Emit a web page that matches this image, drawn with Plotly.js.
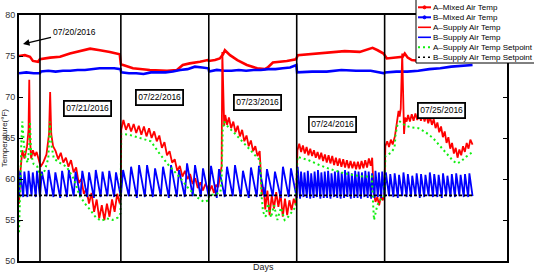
<!DOCTYPE html>
<html><head><meta charset="utf-8">
<script src="https://cdn.plot.ly/plotly-3.0.1.min.js"></script>
<style>html,body{margin:0;padding:0;background:#fff;}#chart{width:534px;height:272px;}</style>
</head><body><div id="chart"></div>
<script>
// ---- data (x = hours since start of record, y = °F) ----
const seriesNames = ["A\u2013Mixed Air Temp","B\u2013Mixed Air Temp","A\u2013Supply Air Temp","B\u2013Supply Air Temp","A\u2013Supply Air Temp Setpoint","B\u2013Supply Air Temp Setpoint"];
const dayLines = [5.73, 27.8, 51.8, 75.8, 99.8];
const dayLabels = ["07/20/2016","07/21/2016","07/22/2016","07/23/2016","07/24/2016","07/25/2016"];

const aMixed = [[0,75.0],[1.6,75.1],[3.0,74.9],[3.8,74.4],[5.2,74.3],[5.7,74.6],[8.5,74.8],[11.2,74.9],[13.9,75.3],[16.6,75.6],[19.4,75.9],[22.1,75.7],[24.8,75.5],[27.5,75.2],
 [27.8,74.0],[31.1,73.5],[35.7,73.3],[40.4,73.2],[43.1,73.3],[44.7,73.9],[46.6,74.1],[49.4,74.3],[51.5,74.5],
 [51.8,74.4],[53.5,74.5],[54.8,74.7],[55.7,75.2],[56.2,75.7],[57.6,75.1],[59.6,74.5],[62.2,73.9],[65.0,73.5],[67.1,73.4],[67.9,73.6],[69.3,74.2],[73.1,74.4],[75.6,74.6],
 [76.1,75.1],[80.7,75.3],[84.8,75.4],[88.9,75.6],[93.0,75.5],[95.2,75.8],[96.5,76.0],[97.9,75.7],[99.5,75.3],
 [100.4,74.7],[102.5,74.8],[104.7,74.9],[105.3,75.3],[106.1,74.8],[107.2,74.5],[109.4,74.4],[114.8,74.6],[123.8,74.6]];

const bMixed = [[0,72.9],[2,73.0],[4,72.9],[5.7,72.9],[6.0,73.1],[8,73.2],[10,73.1],[12,73.2],[14,73.2],[16,73.3],[18,73.3],[20,73.4],[22,73.5],[24,73.5],[26,73.5],[27.7,73.4],
 [27.9,73.0],[30,72.9],[32,72.9],[34,72.8],[36,73.0],[38,73.0],[40,73.0],[42,73.1],[44,73.3],[46,73.4],[48,73.7],[50,73.6],[51.7,73.5],
 [51.9,73.1],[54,73.3],[56,73.2],[58,73.2],[60,73.3],[62,73.2],[64,73.3],[66,73.3],[68,73.4],[70,73.4],[72,73.5],[74,73.6],[75.7,73.9],
 [75.9,73.0],[80,73.1],[84,73.1],[88,73.3],[92,73.2],[96,73.2],[99.7,72.9],
 [99.9,73.0],[103,73.1],[106,73.1],[109,73.2],[112,73.4],[115,73.5],[118,73.7],[121,73.8],[123.8,73.9]];

const aSupply = [[0,57.0],[0.4,61.0],[0.9,63.5],[1.5,62.5],[2.2,64.0],[2.6,66.0],[2.8,72.1],[3.0,65.0],[3.3,62.5],[3.8,63.5],[4.3,62.8],[4.8,63.3],[5.3,62.5],[5.7,62.0],
 [5.9,61.5],[6.6,62.0],[7.5,63.0],[8.2,65.5],[8.5,70.6],[8.8,65.5],[9.3,64.0],[10.0,63.4],[10.7,62.4],[11.4,63.2],[12.1,62.0],[12.8,62.6],[13.5,61.5],[14.2,62.3],[14.9,60.8],[15.6,61.4],[16.3,59.5],[17.0,60.0],[17.7,58.2],[18.4,58.8],[19.1,57.0],[19.8,58.3],[20.5,56.0],[21.2,57.5],[21.9,55.2],[22.6,56.8],[23.3,55.0],[24.0,57.0],[24.7,55.4],[25.4,57.5],[26.1,56.0],[26.8,58.2],[27.5,57.0],[27.8,58.0],
 [27.9,66.0],[28.5,67.2],[29.2,66.0],[29.9,66.8],[30.6,65.8],[31.3,66.7],[32.0,65.6],[32.7,66.5],[33.4,65.4],[34.1,66.4],[34.8,65.2],[35.5,66.2],[36.2,65.0],[36.9,65.8],[37.6,64.6],[38.3,65.3],[39.0,63.8],[39.7,64.5],[40.4,62.9],[41.1,63.4],[41.8,62.0],[42.5,62.4],[43.2,61.0],[43.9,61.6],[44.6,60.3],[45.3,61.0],[46.0,60.0],[46.7,60.6],[47.4,59.4],[48.1,60.1],[48.8,58.9],[49.5,59.6],[50.2,58.6],[50.9,59.4],[51.6,58.7],
 [52.0,58.5],[52.6,59.2],[53.2,58.3],[53.8,59.3],[54.4,59.0],[54.9,60.5],[55.3,61.5],[55.5,75.5],[55.8,68.0],[56.0,66.5],[56.3,67.8],[56.8,66.6],[57.3,67.5],[57.9,66.2],[58.5,67.0],[59.1,65.7],[59.7,66.5],[60.3,65.2],[60.9,66.0],[61.5,64.6],[62.1,65.3],[62.7,64.0],[63.3,64.7],[63.9,63.4],[64.5,64.0],[65.1,62.8],[65.7,63.4],[66.0,60.0],[66.3,58.0],[66.8,59.0],[67.2,56.3],[67.8,58.6],[68.4,55.6],[69.0,58.0],[69.6,56.4],[70.2,58.4],[70.8,56.6],[71.4,58.2],[72.0,55.4],[72.6,57.6],[73.2,55.6],[73.8,57.4],[74.4,56.2],[75.0,57.6],[75.6,56.8],
 [76.0,63.5],[76.5,64.3],[77.0,63.3],[77.5,64.1],[78.0,63.1],[78.5,63.9],[79.0,62.9],[79.5,63.7],[80.0,62.8],[80.5,63.5],[81.0,62.6],[81.5,63.3],[82.0,62.4],[82.5,63.2],[83.0,62.2],[83.5,63.0],[84.0,62.0],[84.5,62.9],[85.0,61.9],[85.5,62.8],[86.0,61.7],[86.5,62.6],[87.0,61.6],[87.5,62.5],[88.0,61.5],[88.5,62.4],[89.0,61.4],[89.5,62.3],[90.0,61.3],[90.5,62.2],[91.0,61.3],[91.5,62.1],[92.0,61.2],[92.5,62.1],[93.0,61.2],[93.5,62.2],[94.0,61.3],[94.5,62.3],[95.0,61.4],[95.5,62.5],[96.0,61.6],[96.4,62.6],[96.8,58.5],[97.3,57.2],[97.8,57.8],[98.3,56.8],[98.8,57.9],[99.3,57.4],[99.7,58.0],
 [100.0,64.0],[100.5,64.6],[101.0,63.9],[101.5,64.8],[102.0,64.2],[102.6,65.2],[103.0,66.5],[103.3,67.3],[103.6,68.3],[103.9,67.6],[104.2,68.6],[104.6,75.3],[104.8,70.0],[105.1,65.5],[105.4,67.5],[105.8,67.0],[106.2,67.8],[106.7,67.0],[107.2,67.9],[107.7,67.1],[108.2,68.0],[108.7,67.2],[109.2,68.0],[109.7,67.1],[110.2,67.9],[110.7,67.0],[111.2,67.8],[111.7,66.8],[112.2,67.6],[112.7,66.6],[113.2,67.3],[113.7,66.2],[114.2,66.9],[114.7,65.7],[115.2,66.4],[115.7,65.1],[116.2,65.8],[116.7,64.4],[117.2,65.1],[117.7,63.7],[118.2,64.4],[118.7,63.1],[119.2,63.8],[119.7,62.6],[120.2,63.6],[120.7,62.9],[121.2,64.0],[121.7,63.3],[122.2,64.4],[122.7,63.7],[123.2,64.8],[123.8,64.2]];

const aSetpoint = [[0,53.5],[0.2,56.0],[0.4,60.0],[0.6,64.0],[0.9,67.0],[1.3,64.5],[1.8,62.5],[2.4,62.0],[2.8,64.0],[3.0,67.0],[3.3,63.0],[4.0,61.8],[5.0,61.5],[5.7,60.5],
 [6.0,60.5],[7.0,61.0],[8.0,62.5],[8.4,67.0],[8.9,64.0],[9.5,62.5],[11,62.0],[13,61.5],[15,60.0],[16.5,58.0],[18,57.0],[19.5,56.2],[21,55.3],[22.5,54.9],[24,55.2],[25.5,55.0],[27,55.3],[27.7,55.8],
 [27.9,65.5],[30,65.4],[33,65.0],[36,64.6],[38.5,63.0],[41,61.6],[43.5,60.4],[46,59.0],[48.5,57.8],[50.5,57.2],[51.7,57.4],
 [51.9,58.0],[54,58.2],[55.0,58.4],[55.3,60.0],[55.6,66.0],[56.0,67.0],[57,66.4],[59,65.5],[61,64.6],[63,63.6],[65,62.6],[65.8,62.3],[66.2,58.0],[66.6,56.0],[67.3,55.4],[68,57.0],[68.8,55.3],[69.6,56.8],[70.5,55.0],[71.5,56.5],[72.5,55.0],[73.5,55.4],[74.5,56.0],[75.5,56.6],
 [76.0,62.7],[79,62.3],[82,61.7],[85,61.2],[88,60.8],[91,60.5],[94,60.3],[96.3,60.3],[96.6,57.4],[96.9,55.0],[97.3,55.8],[97.8,56.8],[98.5,57.4],[99.2,57.8],[99.7,58.0],
 [100.0,62.8],[101.5,63.2],[102.5,63.8],[102.8,65.5],[103.3,66.6],[104.0,67.0],[105.5,66.5],[107,66.3],[109,66.2],[111,65.7],[113,65.0],[115,64.0],[117,63.0],[118.5,62.2],[119.5,61.9],[120.5,62.1],[122,62.7],[123.8,63.3]];

const bSetpoint = [[0,58.0],[123.8,58.0]];

// B supply: per day span, cycle peaks and troughs
const bSupplyDays = [[0,5.73],[5.73,27.8],[27.8,51.8],[51.8,75.8],[75.8,99.8],[99.8,123.8]];
const bSupplyPeaks = [
 [61.0,60.9,61.0,60.8,61.0],
 [60.9,61.1,60.8,61.0,61.1,60.9,61.0,60.8,61.1,60.9,61.0,60.8],
 [61.1,61.5,61.7,61.7,61.3,61.5,61.7,61.1,61.9,61.7,61.3],
 [61.6,61.2,61.5,61.7,61.0,61.4,61.6,61.2,60.9,61.5,61.3],
 [61.5,60.9,60.8,61.0,60.7,60.9,61.1,60.8,60.9,61.0,60.7,60.9,61.0,60.8,61.1,60.9,60.7,61.0,60.9,60.8,61.0,60.9,60.7,61.0,60.8,60.9],
 [60.8,60.6,60.7,60.5,60.8,60.6,60.4,60.7,60.6,60.5,60.8,60.6,60.5,60.7,60.4,60.6,60.7,60.5,60.6,60.7]];
const bSupplyTroughs = [
 [57.9,57.8,57.8,57.9,57.8],
 [57.8,57.9,57.8,57.7,57.8,57.9,57.8,57.8,57.7,57.8,57.9,57.8],
 [57.8,57.9,57.7,57.8,57.8,57.9,57.7,57.8,57.8,57.9,57.8],
 [57.8,57.7,57.8,57.9,57.8,57.7,57.8,57.8,57.9,57.7,57.8],
 [57.7,57.6,57.8,57.7,57.6,57.7,57.8,57.6,57.7,57.7,57.6,57.8,57.7,57.6,57.7,57.8,57.6,57.7,57.7,57.6,57.8,57.7,57.6,57.7,57.8,57.7],
 [57.8,57.9,57.8,57.7,57.9,57.8,57.8,57.9,57.7,57.8,57.9,57.8,57.8,57.7,57.9,57.8,57.8,57.9,57.8,57.8]];
const bSupplyLast = 57.9;

// ---- build ----
const bsx = [], bsy = [];
bSupplyDays.forEach((d, k) => {
  const pk = bSupplyPeaks[k], tr = bSupplyTroughs[k];
  const per = (d[1] - d[0]) / pk.length;
  for (let i = 0; i < pk.length; i++) {
    bsx.push(d[0] + i * per); bsy.push(tr[i]);
    bsx.push(d[0] + (i + 0.28) * per); bsy.push(pk[i]);
  }
});
bsx.push(bSupplyDays[bSupplyDays.length - 1][1]); bsy.push(bSupplyLast);

const col = p => p.map(a => a[0]), val = p => p.map(a => a[1]);
const RED = '#ff0000', BLUE = '#0000ff', GREEN = '#11ee11';
const traces = [
  {x: col(aMixed), y: val(aMixed), name: seriesNames[0], mode: 'lines', line: {color: RED, width: 2.6}},
  {x: col(bMixed), y: val(bMixed), name: seriesNames[1], mode: 'lines', line: {color: BLUE, width: 2.6}},
  {x: col(aSupply), y: val(aSupply), name: seriesNames[2], mode: 'lines', line: {color: RED, width: 1.8}},
  {x: bsx, y: bsy, name: seriesNames[3], mode: 'lines', line: {color: BLUE, width: 1.8}},
  {x: col(aSetpoint), y: val(aSetpoint), name: seriesNames[4], mode: 'lines', line: {color: GREEN, width: 2, dash: '2px,3px'}},
  {x: col(bSetpoint), y: val(bSetpoint), name: seriesNames[5], mode: 'lines', line: {color: '#000000', width: 1.6, dash: '3px,2px'}}
].map(t => Object.assign(t, {showlegend: false, hoverinfo: 'skip'}));

// pixel helpers for decorations
const L = 19, R = 507, T = 15, B = 261;
const PX = px => (px - L) / (R - L), PY = py => (B - py) / (B - T);
const FONT = 'Liberation Sans, Arial, Helvetica, sans-serif';

const shapes = dayLines.map(x => ({type: 'line', xref: 'x', yref: 'paper', x0: x, x1: x, y0: 0, y1: 1, line: {color: '#000', width: 1.6}}));
const annotations = [];
// date boxes
const boxPos = [[87.5,108],[159,97.5],[257,102],[332,124.5],[441,110]];
boxPos.forEach((p, i) => annotations.push({xref: 'paper', yref: 'paper', x: PX(p[0]), y: PY(p[1]), text: dayLabels[i + 1], showarrow: false,
  font: {family: FONT, size: 8.5, color: '#000'}, bgcolor: '#fff', bordercolor: '#000', borderwidth: 1.8, borderpad: 1.5, xanchor: 'center', yanchor: 'middle'}));
// first day arrow label
annotations.push({xref: 'paper', yref: 'paper', x: PX(23), y: PY(44), text: dayLabels[0], showarrow: true, ax: 51, ay: -12,
  arrowhead: 2, arrowsize: 1, arrowwidth: 1.3, arrowcolor: '#000', font: {family: FONT, size: 8.5, color: '#000'}});
// axis titles
annotations.push({xref: 'paper', yref: 'paper', x: PX(263), y: PY(267), text: 'Days', showarrow: false, font: {family: FONT, size: 9, color: '#222'}, xanchor: 'center', yanchor: 'middle'});
annotations.push({xref: 'paper', yref: 'paper', x: PX(4.3), y: PY(138), text: 'Temperature(°F)', textangle: -90, showarrow: false, font: {family: FONT, size: 8, color: '#222'}, xanchor: 'center', yanchor: 'middle', borderpad: 0});

// custom legend
shapes.push({type: 'rect', xref: 'paper', yref: 'paper', x0: PX(416), x1: PX(540), y0: PY(63), y1: PY(-2), fillcolor: '#fff', line: {color: '#000', width: 1}, layer: 'above'});
const legStyles = [
  {c: RED, w: 2, d: 'solid', m: true}, {c: BLUE, w: 2, d: 'solid', m: true},
  {c: RED, w: 1.6, d: 'solid'}, {c: BLUE, w: 1.6, d: 'solid'},
  {c: GREEN, w: 2, d: '2px,3px'}, {c: '#000', w: 1.6, d: '2px,3px'}];
legStyles.forEach((s, i) => {
  const py = 7.3 + 10 * i;
  shapes.push({type: 'line', xref: 'paper', yref: 'paper', x0: PX(418), x1: PX(431), y0: PY(py), y1: PY(py), line: {color: s.c, width: s.w, dash: s.d}, layer: 'above'});
  if (s.m) shapes.push({type: 'circle', xref: 'paper', yref: 'paper', x0: PX(423), x1: PX(426), y0: PY(py + 1.5), y1: PY(py - 1.5), fillcolor: s.c, line: {color: s.c, width: 1}, layer: 'above'});
  annotations.push({xref: 'paper', yref: 'paper', x: PX(432), y: PY(py), text: seriesNames[i], showarrow: false, xanchor: 'left', yanchor: 'middle',
    font: {family: FONT, size: 8, color: '#000'}, borderpad: 0});
});

const layout = {
  width: 534, height: 272,
  margin: {l: L, r: 534 - R, t: T, b: 272 - B, pad: 0},
  paper_bgcolor: '#fff', plot_bgcolor: '#fff',
  font: {family: FONT, size: 9, color: '#222'},
  showlegend: false,
  xaxis: {range: [0, 133.2], showticklabels: false, ticks: '', showgrid: false, zeroline: false, showline: true, mirror: true, linecolor: '#000', linewidth: 2},
  yaxis: {range: [50, 80], dtick: 5, tick0: 50, ticks: 'inside', ticklen: 4, tickwidth: 1, tickcolor: '#000', showgrid: false, zeroline: false,
    showline: true, mirror: 'ticks', linecolor: '#000', linewidth: 2, tickfont: {family: FONT, size: 9, color: '#333'}},
  shapes: shapes, annotations: annotations
};
Plotly.newPlot('chart', traces, layout, {staticPlot: true, displayModeBar: false});
</script></body></html>
